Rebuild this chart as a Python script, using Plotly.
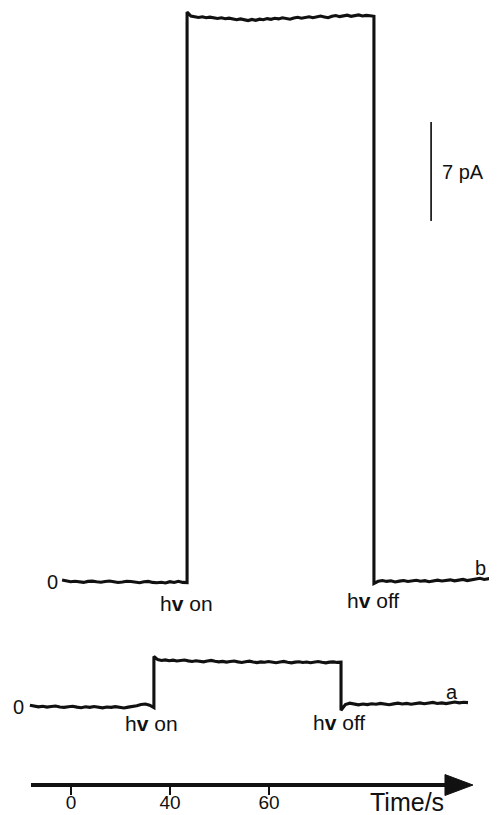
import numpy as np
import plotly.graph_objects as go

# ---------------- data (current in pA, time in s) ----------------
# trace b : light-on / light-off times and readings of each segment
b_times = [-3.6, 46.9, 122.4, 172.1]          # start, on, off, end
b_pre = [0.14, 0.08, 0.02, 0.05, 0.0, -0.03, 0.04, 0.06, 0.01, -0.02, 0.03, 0.07, 0.02, -0.04, 0.0,
         0.05, 0.03, -0.02, -0.05, 0.01, 0.04, -0.03, -0.06, -0.02, -0.07, 0.02, -0.04, 0.05, -0.03, -0.05]
b_on = [40.3, 40.02, 39.96, 39.92, 39.97, 39.9, 39.94, 39.88, 39.85, 39.9, 39.83, 39.87, 39.8, 39.76,
        39.82, 39.74, 39.7, 39.78, 39.72, 39.8, 39.76, 39.84, 39.79, 39.86, 39.82, 39.9, 39.85, 39.8,
        39.88, 39.93, 39.87, 39.92, 39.97, 39.9, 39.95, 40.02, 39.96, 39.9, 40.0, 40.06, 39.98, 40.04,
        40.08, 40.0, 40.05, 40.1, 40.03, 40.07, 40.04, 40.0]
b_post = [-0.1, 0.05, 0.1, 0.04, 0.08, 0.0, 0.06, 0.1, 0.03, 0.07, 0.12, 0.05, 0.09, 0.02, 0.08, 0.13,
          0.07, 0.1, 0.15, 0.08, 0.12, 0.18, 0.1, 0.14, 0.2, 0.26, 0.18, 0.22, 0.28, 0.25]

# trace a
a_times = [-16.6, 33.5, 109.1, 160.4]
a_pre = [0.05, 0.0, -0.06, -0.02, -0.08, -0.04, 0.0, -0.07, -0.1, -0.05, -0.02, -0.08, -0.12, -0.06,
         -0.1, -0.04, -0.08, -0.13, -0.07, -0.1, -0.05, -0.09, -0.14, -0.08, -0.05, 0.02, 0.1, 0.14,
         0.05, -0.12]
a_on = [3.5, 3.28, 3.22, 3.26, 3.2, 3.24, 3.18, 3.22, 3.25, 3.19, 3.15, 3.2, 3.17, 3.12, 3.18, 3.22,
        3.16, 3.12, 3.15, 3.1, 3.14, 3.18, 3.12, 3.08, 3.13, 3.17, 3.11, 3.07, 3.12, 3.09, 3.14, 3.1,
        3.06, 3.11, 3.15, 3.09, 3.05, 3.1, 3.13, 3.08, 3.11, 3.06, 3.1, 3.14, 3.09, 3.05, 3.1, 3.12,
        3.08, 3.1]
a_post = [-0.3, 0.1, 0.2, 0.12, 0.08, 0.14, 0.1, 0.16, 0.12, 0.18, 0.13, 0.09, 0.15, 0.2, 0.14, 0.18,
          0.12, 0.17, 0.22, 0.16, 0.2, 0.25, 0.18, 0.22, 0.17, 0.24, 0.28, 0.22, 0.26, 0.24]

tick_vals = [0, 40, 80]
tick_text = ["0", "40", "60"]
scale_bar_pA = 7

# ---------------- layout helpers ----------------
offset_b = 0.0
offset_a = -8.77
axis_y = -14.36
X_RANGE = [-25.45, 172.12]
Y_RANGE = [-16.48, 40.59]


def build(times, pre, on, post, offset):
    t = np.concatenate([np.linspace(times[0], times[1], len(pre)),
                        np.linspace(times[1], times[2], len(on)),
                        np.linspace(times[2], times[3], len(post))])
    y = np.concatenate([pre, on, post]) + offset
    return t, y


fig = go.Figure()
for times, pre, on, post, off in [(b_times, b_pre, b_on, b_post, offset_b),
                                  (a_times, a_pre, a_on, a_post, offset_a)]:
    t, y = build(times, pre, on, post, off)
    fig.add_trace(go.Scatter(x=t, y=y, mode="lines",
                             line=dict(color="#111111", width=3.1),
                             hoverinfo="skip"))

FONT = "Liberation Sans, Arial, sans-serif"
ann = []


def txt(x, y, s, size=21, xanchor="center"):
    ann.append(dict(x=x, y=y, xref="x", yref="y", text=s, showarrow=False,
                    font=dict(family=FONT, size=size, color="#111"),
                    xanchor=xanchor, yanchor="middle"))


txt(-7.3, offset_b + 0.0, "0", 20)
txt(46.5, offset_b - 1.49, "h<b>v</b> on")
txt(122.0, offset_b - 1.34, "h<b>v</b> off")
txt(165.3, offset_b + 0.99, "b", 20)
txt(-21.4, offset_a - 0.07, "0", 20)
txt(32.7, offset_a - 1.27, "h<b>v</b> on")
txt(108.3, offset_a - 1.2, "h<b>v</b> off")
txt(153.9, offset_a + 1.0, "a", 20)
txt(149.1, 29.0, "7 pA", 20, "left")
txt(135.6, axis_y - 1.2, "Time/s", 25)

shapes = [
    # scale bar
    dict(type="line", xref="x", yref="y", x0=145.5, x1=145.5, y0=25.53, y1=25.53 + scale_bar_pA,
         line=dict(color="#222", width=1.8)),
    # time axis line
    dict(type="line", xref="x", yref="y", x0=-16.16, x1=152.5, y0=axis_y, y1=axis_y,
         line=dict(color="#111", width=4)),
    # arrow head
    dict(type="path", xref="x", yref="y",
         path=f"M 151.1 {axis_y + 0.74} L 162.4 {axis_y} L 151.1 {axis_y - 0.74} Z",
         fillcolor="#111", line=dict(color="#111", width=1)),
]

fig.update_layout(
    width=489, height=807, margin=dict(l=0, r=0, t=0, b=0),
    paper_bgcolor="white", plot_bgcolor="white", showlegend=False,
    annotations=ann, shapes=shapes,
    xaxis=dict(range=X_RANGE, showgrid=False, zeroline=False, showline=False,
               ticks="outside", tickvals=tick_vals, ticktext=tick_text, ticklen=8,
               tickwidth=2, tickcolor="#111", anchor="free", position=1 - (786 - 8) / 807,
               ticklabelstandoff=-9,
               tickfont=dict(family=FONT, size=19, color="#111"), automargin=False),
    yaxis=dict(range=Y_RANGE, visible=False, automargin=False),
)

fig.write_html("out.html")
